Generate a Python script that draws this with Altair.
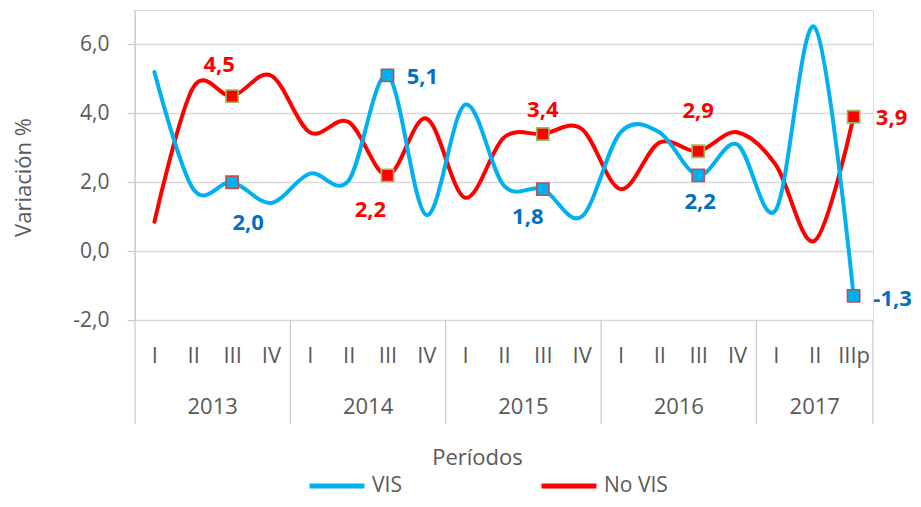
import altair as alt
import pandas as pd

# ---------------- data ----------------
quarters = ["I", "II", "III", "IV", "I", "II", "III", "IV", "I", "II", "III", "IV",
            "I", "II", "III", "IV", "I", "II", "IIIp"]
years = ["2013", "2014", "2015", "2016", "2017"]
quarters_per_year = [4, 4, 4, 4, 3]
vis = [5.2, 1.8, 2.0, 1.4, 2.25, 2.05, 5.1, 1.05, 4.25, 1.9, 1.8, 1.0,
       3.45, 3.45, 2.2, 3.1, 1.2, 6.5, -1.3]
no_vis = [0.85, 4.75, 4.5, 5.1, 3.45, 3.75, 2.2, 3.85, 1.55, 3.3, 3.4, 3.55,
          1.8, 3.15, 2.9, 3.45, 2.5, 0.3, 3.9]
labeled_idx = [2, 6, 10, 14, 18]

# ---------------- styling ----------------
W, H = 738, 310
FONT = "Open Sans"
GRAY_TXT = "#595959"
BLUE, RED = "#00B0F0", "#FF0000"
BLUE_LBL = "#0070C0"
# label offsets (dx, dy) in pixels for each labeled point
vis_offsets = [(16, 41), (35, 2), (-15, 28), (2, 27), (39, 3)]
novis_offsets = [(-13, -31), (-17, 35), (0, -24), (0, -40), (38, 1)]

n = len(quarters)
df_vis = pd.DataFrame({"idx": range(n), "serie": "VIS", "valor": vis})
df_novis = pd.DataFrame({"idx": range(n), "serie": "No VIS", "valor": no_vis})

xscale = alt.Scale(domain=[-0.5, n - 0.5], nice=False, zero=False)
yscale = alt.Scale(domain=[-2, 7], nice=False, zero=False)

quarter_expr = "[" + ",".join(f"'{q}'" for q in quarters) + "][datum.value]"

x_axis = alt.Axis(values=list(range(n)), labelExpr=quarter_expr, ticks=False,
                  domain=False, grid=False, labelFont=FONT, labelFontSize=22,
                  labelColor=GRAY_TXT, labelBaseline="middle", labelPadding=35,
                  labelAngle=0, labelFlush=False, labelOverlap=False,
                  title="Períodos", titleFont=FONT, titleFontSize=22,
                  titleFontWeight="normal", titleColor=GRAY_TXT, titleX=342,
                  titleY=137, titleBaseline="middle", titleAlign="center")
y_axis = alt.Axis(values=[-2, 0, 2, 4, 6],
                  labelExpr="replace(replace(format(datum.value, '.1f'), '.', ','), '\u2212', '-')",
                  tickSize=8, tickColor="#c8c8c8", tickWidth=1.2, domain=False,
                  grid=True, gridColor="#d9d9d9", gridWidth=1.5,
                  labelFont=FONT, labelFontSize=21, labelColor=GRAY_TXT,
                  labelPadding=18, title="Variación %", titleFont=FONT,
                  titleFontSize=22, titleFontWeight="normal", titleColor=GRAY_TXT,
                  titleX=-112, titleY=167, titleAlign="center",
                  titleBaseline="middle", titleAngle=-90)

X = lambda f: alt.X(f, scale=xscale, axis=x_axis)
Y = lambda f: alt.Y(f, scale=yscale, axis=y_axis)

color_scale = alt.Scale(domain=["VIS", "No VIS"], range=[BLUE, RED])
legend = alt.Legend(orient="none", legendX=172, legendY=446, direction="horizontal",
                    title=None, symbolType="stroke", symbolSize=3025,
                    symbolStrokeWidth=5, labelFont=FONT, labelFontSize=21,
                    labelColor=GRAY_TXT, labelOffset=5, columnPadding=129, padding=0)


def line_layer(df):
    return alt.Chart(df).mark_line(interpolate="cardinal", tension=0, strokeWidth=4,
                                   strokeCap="round", strokeJoin="round").encode(
        x=X("idx:Q"), y=Y("valor:Q"),
        color=alt.Color("serie:N", scale=color_scale, legend=legend),
    )


red_line = line_layer(df_novis)
blue_line = line_layer(df_vis)

mk_vis = df_vis[df_vis["idx"].isin(labeled_idx)]
mk_novis = df_novis[df_novis["idx"].isin(labeled_idx)]

blue_marks = alt.Chart(mk_vis).mark_square(size=150, fill=BLUE, stroke="#C0504D",
                                           strokeWidth=1.6, opacity=1).encode(
    x=X("idx:Q"), y=Y("valor:Q"))
red_marks = alt.Chart(mk_novis).mark_square(size=150, fill=RED, stroke="#9BBB59",
                                            strokeWidth=1.6, opacity=1).encode(
    x=X("idx:Q"), y=Y("valor:Q"))

label_layers = []
for df_mk, offs, col in [(mk_vis, vis_offsets, BLUE_LBL), (mk_novis, novis_offsets, RED)]:
    for (_, row), (dx, dy) in zip(df_mk.iterrows(), offs):
        d = pd.DataFrame({"idx": [row["idx"]], "valor": [row["valor"]],
                          "txt": [f"{row['valor']:.1f}".replace(".", ",")]})
        label_layers.append(
            alt.Chart(d).mark_text(font=FONT, fontSize=22, fontWeight="bold", color=col,
                                   dx=dx, dy=dy, align="center", baseline="middle").encode(
                x=X("idx:Q"), y=Y("valor:Q"), text="txt:N"))

# year category row
bounds = [-0.5]
for q in quarters_per_year:
    bounds.append(bounds[-1] + q)
df_years = pd.DataFrame({"year": years,
                         "center": [(bounds[i] + bounds[i + 1]) / 2 for i in range(len(years))]})
df_bounds = pd.DataFrame({"b": bounds})

year_text = alt.Chart(df_years).mark_text(font=FONT, fontSize=22, color=GRAY_TXT,
                                          baseline="middle").encode(
    x=X("center:Q"), y=alt.value(H + 87), text="year:N")
dividers = alt.Chart(df_bounds).mark_rule(color="#c8c8c8", strokeWidth=1.2).encode(
    x=X("b:Q"), y=alt.value(H), y2=alt.value(H + 104))
left_axis = alt.Chart(df_bounds.head(1)).mark_rule(color="#c8c8c8", strokeWidth=1.2).encode(
    x=X("b:Q"), y=alt.value(0), y2=alt.value(H))

chart = alt.layer(red_line, blue_line, dividers, left_axis, year_text,
                  red_marks, blue_marks, *label_layers).properties(
    width=W, height=H,
    autosize=alt.AutoSizeParams(type="none"),
    padding={"left": 127, "top": 2, "right": 40, "bottom": 179},
).configure_view(strokeWidth=0).configure(font=FONT)

chart.save("out.html", embed_options={"renderer": "svg", "actions": False})
